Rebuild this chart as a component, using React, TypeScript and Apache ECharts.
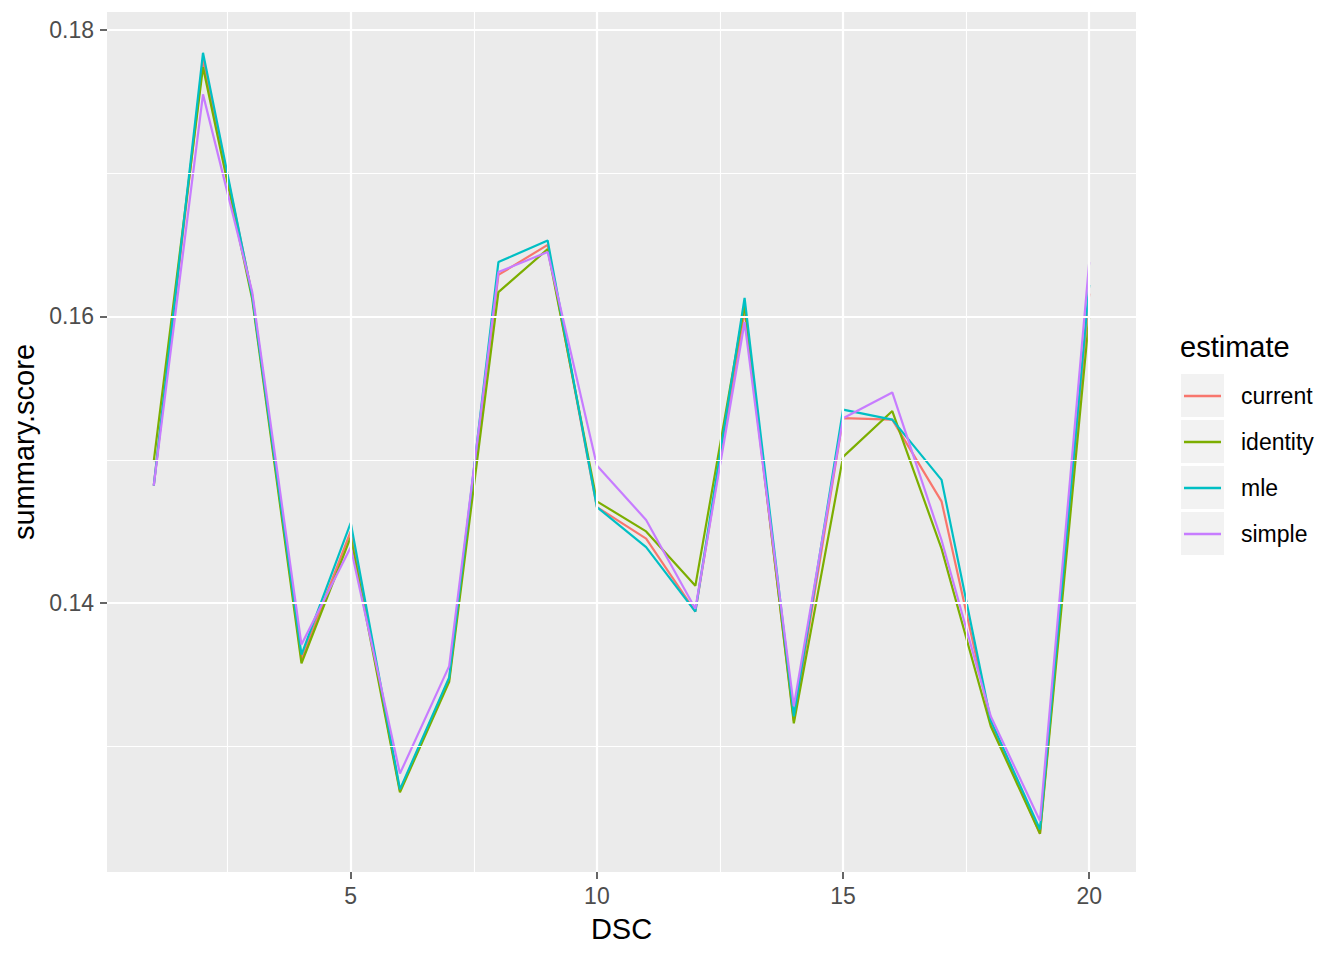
import React, { useEffect, useRef } from "react";
import * as echarts from "echarts";

const dsc = [1, 2, 3, 4, 5, 6, 7, 8, 9, 10, 11, 12, 13, 14, 15, 16, 17, 18, 19, 20];
const seriesNames = ["current", "identity", "mle", "simple"];
const current = [0.1482, 0.1779, 0.1615, 0.1361, 0.1450, 0.1269, 0.1347, 0.1629, 0.1650, 0.1467, 0.1445, 0.1394, 0.1604, 0.1318, 0.1529, 0.1528, 0.1471, 0.1317, 0.1239, 0.1616];
const identity = [0.1499, 0.1774, 0.1612, 0.1358, 0.1446, 0.1268, 0.1345, 0.1617, 0.1647, 0.1471, 0.1450, 0.1412, 0.1608, 0.1316, 0.1502, 0.1534, 0.1438, 0.1314, 0.1239, 0.1600];
const mle = [0.1482, 0.1784, 0.1614, 0.1364, 0.1456, 0.1270, 0.1348, 0.1638, 0.1653, 0.1467, 0.1439, 0.1394, 0.1613, 0.1321, 0.1535, 0.1528, 0.1486, 0.1318, 0.1242, 0.1622];
const simple = [0.1482, 0.1755, 0.1617, 0.1371, 0.1439, 0.1281, 0.1356, 0.1631, 0.1645, 0.1496, 0.1458, 0.1396, 0.1596, 0.1328, 0.1529, 0.1547, 0.1444, 0.1321, 0.1248, 0.1638];
const xTicks = [5, 10, 15, 20];
const xMinor = [2.5, 7.5, 12.5, 17.5];
const yTicks = [0.14, 0.16, 0.18];
const yMinor = [0.13, 0.15, 0.17];

const colors = ["#F8766D", "#7CAE00", "#00BFC4", "#C77CFF"];
const FONT = "'Liberation Sans', Arial, Helvetica, sans-serif";

export default function App() {
  const ref = useRef<HTMLDivElement>(null);
  useEffect(() => {
    if (!ref.current) return;
    const chart = echarts.init(ref.current, undefined, { renderer: "svg" });
    const all = [current, identity, mle, simple];
    const lines = all.map((vals, i) => ({
      name: seriesNames[i],
      type: "line",
      data: dsc.map((d, j) => [d, vals[j]]),
      showSymbol: false,
      symbol: "none",
      lineStyle: { color: colors[i], width: 2.2 },
      itemStyle: { color: colors[i] },
      z: 3,
    }));
    const gridMarks = [
      ...xMinor.map((v) => ({ xAxis: v, lineStyle: { width: 1.1 } })),
      ...xTicks.map((v) => ({ xAxis: v, lineStyle: { width: 2.2 } })),
      ...yMinor.map((v) => ({ yAxis: v, lineStyle: { width: 1.1 } })),
      ...yTicks.map((v) => ({ yAxis: v, lineStyle: { width: 2.2 } })),
    ];
    const keyRects = seriesNames.map((_, i) => ({
      type: "rect",
      shape: { x: 1181, y: 374 + i * 46, width: 43, height: 43 },
      style: { fill: "#F2F2F2" },
      z: 0,
    }));
    chart.setOption({
      animation: false,
      textStyle: { fontFamily: FONT },
      grid: {
        left: 107,
        right: 208,
        top: 12,
        bottom: 88,
        show: true,
        backgroundColor: "#EBEBEB",
        borderWidth: 0,
      },
      xAxis: {
        type: "value",
        min: 0.05,
        max: 20.95,
        name: "DSC",
        nameLocation: "middle",
        nameGap: 42,
        nameTextStyle: { fontSize: 29, color: "#000000", fontFamily: FONT },
        axisLine: { show: false },
        axisTick: { show: true, length: 7, lineStyle: { color: "#333333", width: 1.5 }, customValues: xTicks },
        axisLabel: { color: "#4D4D4D", fontSize: 23, margin: 12, fontFamily: FONT, customValues: xTicks, formatter: (v: number) => String(v) },
        splitLine: { show: false },
      },
      yAxis: {
        type: "value",
        min: 0.12123,
        max: 0.18125,
        name: "summary.score",
        nameLocation: "middle",
        nameGap: 64,
        nameTextStyle: { fontSize: 29, color: "#000000", fontFamily: FONT },
        axisLine: { show: false },
        axisTick: { show: true, length: 7, lineStyle: { color: "#333333", width: 1.5 }, customValues: yTicks },
        axisLabel: { color: "#4D4D4D", fontSize: 23, margin: 13, fontFamily: FONT, customValues: yTicks, formatter: (v: number) => v.toFixed(2) },
        splitLine: { show: false },
      },
      legend: {
        data: seriesNames,
        orient: "vertical",
        left: 1184,
        top: 383,
        padding: 0,
        icon: "rect",
        itemWidth: 37,
        itemHeight: 2.5,
        itemGap: 20,
        z: 5,
        textStyle: { fontSize: 23, color: "#000000", lineHeight: 26, padding: [0, 0, 0, 15], fontFamily: FONT },
      },
      graphic: [
        ...keyRects,
        {
          type: "text",
          left: 1180,
          top: 332,
          style: { text: "estimate", fontSize: 29, fill: "#000000", fontFamily: FONT },
          z: 1,
        },
      ],
      series: [
        {
          name: "__grid",
          type: "line",
          data: [],
          z: 1,
          silent: true,
          markLine: {
            silent: true,
            symbol: ["none", "none"],
            label: { show: false },
            lineStyle: { color: "#FFFFFF", type: "solid" },
            emphasis: { disabled: true },
            data: gridMarks,
          },
        },
        ...lines,
      ],
    });
    return () => chart.dispose();
  }, []);
  return (
    <div
      ref={ref}
      style={{ position: "fixed", left: 0, top: 0, width: 1344, height: 960, background: "#FFFFFF" }}
    />
  );
}
